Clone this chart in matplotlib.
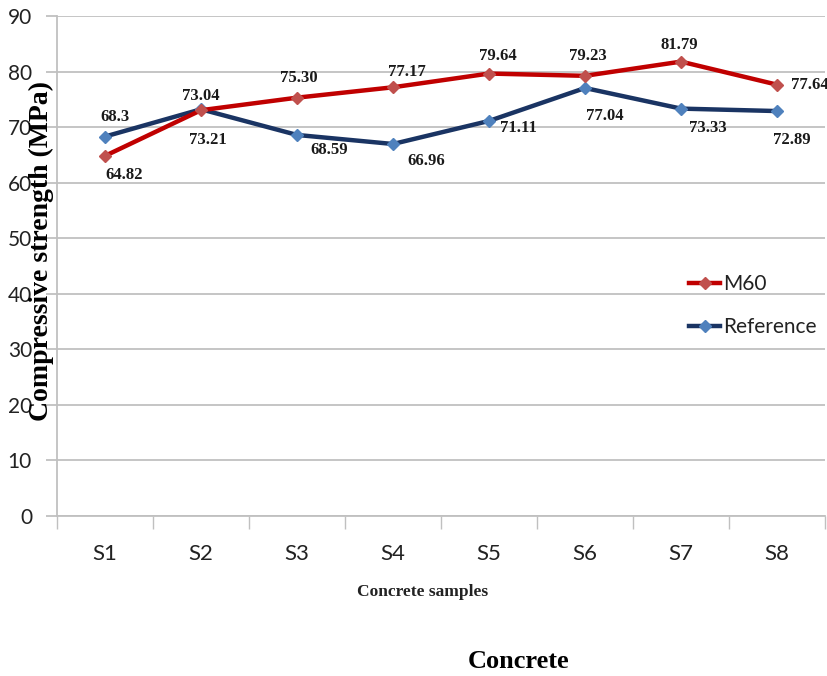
import matplotlib
matplotlib.use("Agg")
import matplotlib.pyplot as plt
from matplotlib.lines import Line2D

# Data
samples = ["S1", "S2", "S3", "S4", "S5", "S6", "S7", "S8"]
m60 = [64.82, 73.04, 75.30, 77.17, 79.64, 79.23, 81.79, 77.64]
m60_labels = ["64.82", "73.04", "75.30", "77.17", "79.64", "79.23", "81.79", "77.64"]
reference = [68.3, 73.21, 68.59, 66.96, 71.11, 77.04, 73.33, 72.89]
reference_labels = ["68.3", "73.21", "68.59", "66.96", "71.11", "77.04", "73.33", "72.89"]
y_ticks = [0, 10, 20, 30, 40, 50, 60, 70, 80, 90]

# Label offsets in points (dx, dy), dy positive = upward
m60_offsets = [(14, -14), (0, 10), (1, 14), (10, 11), (6, 13), (2, 14), (-1, 12), (10, 0)]
ref_offsets = [(7, 14), (5, -22), (23, -11), (24, -12), (21, -5), (14, -20), (19, -14), (11, -21)]
m60_ha = ["center"] * 7 + ["left"]

SERIF = "Liberation Serif"
SANS = "Lato"
GRID = "#c0c0c0"

fig = plt.figure(figsize=(8.27, 6.76), dpi=100)
ax = fig.add_axes([57 / 827, 1 - 516 / 676, 768 / 827, 500 / 676])

x = list(range(len(samples)))
red_line, red_mark = "#c00000", "#c0504d"
blue_line, blue_mark = "#1a3463", "#4f81bd"

ax.plot(x, reference, color=blue_line, lw=3.2, marker="D", ms=6.2,
        mfc=blue_mark, mec=blue_mark, zorder=3, label="Reference")
ax.plot(x, m60, color=red_line, lw=3.2, marker="D", ms=6.2,
        mfc=red_mark, mec=red_mark, zorder=4, label="M60")

for xi, v, t, (dx, dy), ha in zip(x, m60, m60_labels, m60_offsets, m60_ha):
    ax.annotate(t, (xi, v), xytext=(dx, dy), textcoords="offset points",
                ha=ha, va="center", fontsize=12, fontweight="bold",
                family=SERIF, color="#1a1a1a", zorder=5, annotation_clip=False)
for xi, v, t, (dx, dy) in zip(x, reference, reference_labels, ref_offsets):
    ax.annotate(t, (xi, v), xytext=(dx, dy), textcoords="offset points",
                ha="center", va="center", fontsize=12, fontweight="bold",
                family=SERIF, color="#1a1a1a", zorder=5)

ax.set_xlim(-0.5, len(samples) - 0.5)
ax.set_ylim(0, 90)
ax.set_yticks(y_ticks)
ax.set_yticklabels([str(v) for v in y_ticks], family=SANS, fontsize=15, color="#222222")
ax.yaxis.grid(True, color=GRID, lw=1.3)
ax.set_axisbelow(True)

ax.set_xticks(x)
ax.set_xticklabels(samples, family=SANS, fontsize=16, color="#222222")
ax.set_xticks([i - 0.5 for i in range(len(samples) + 1)], minor=True)
ax.tick_params(axis="x", which="major", length=0, pad=20)
ax.tick_params(axis="x", which="minor", length=9, width=1, color=GRID)
ax.tick_params(axis="y", length=8, width=1.3, color=GRID, pad=10)

for s in ("top", "right"):
    ax.spines[s].set_visible(False)
for s in ("left", "bottom"):
    ax.spines[s].set_color(GRID)
    ax.spines[s].set_linewidth(1.3)

# Legend
handles = [
    Line2D([], [], color=red_line, lw=3.2, marker="D", ms=6.2, mfc=red_mark, mec=red_mark),
    Line2D([], [], color=blue_line, lw=3.2, marker="D", ms=6.2, mfc=blue_mark, mec=blue_mark),
]
leg = ax.legend(handles, ["M60", "Reference"], loc="upper left",
                bbox_to_anchor=(689 / 827, 1 - 274 / 676), bbox_transform=fig.transFigure,
                frameon=False, handlelength=1.5, handletextpad=0.15,
                labelspacing=1.1, borderpad=0, borderaxespad=0,
                prop={"family": SANS, "size": 15})
for t in leg.get_texts():
    t.set_color("#222222")

# Axis titles
fig.text(41 / 827, 1 - 251 / 676, "Compressive strength (MPa)", rotation=90,
         ha="center", va="center", family=SERIF, fontweight="bold", fontsize=20)
fig.text(423 / 827, 1 - 592 / 676, "Concrete samples", ha="center", va="center",
         family=SERIF, fontweight="bold", fontsize=12.5, color="#222222")
fig.text(519 / 827, 1 - 661 / 676, "Concrete", ha="center", va="center",
         family=SERIF, fontweight="bold", fontsize=19)

fig.savefig("out.png", dpi=100)
